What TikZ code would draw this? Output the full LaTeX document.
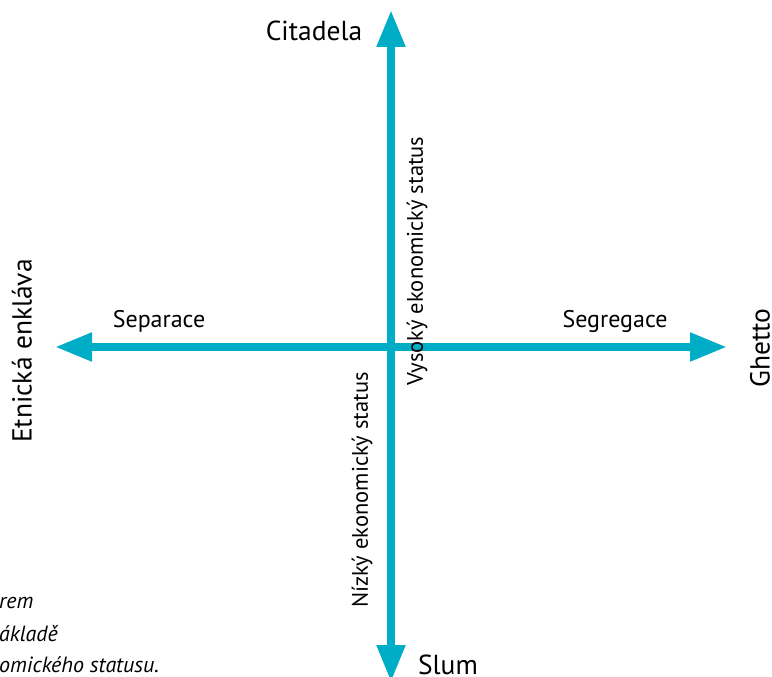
\documentclass[tikz,border=0pt]{standalone}
\usepackage{fontspec}
\setmainfont{PT Sans}
\usetikzlibrary{arrows.meta}
\definecolor{axis}{RGB}{0,173,198}
\tikzset{
  axisarrow/.style={draw=axis, line width=8pt,
    {Triangle[width=27pt,length=37pt]}-{Triangle[width=27pt,length=37pt]}},
  lbl/.style={inner sep=0pt, font=\fontsize{24}{28}\selectfont},
  vlbl/.style={inner sep=0pt, rotate=90, font=\fontsize{22.5}{26}\selectfont},
  biglbl/.style={inner sep=0pt, font=\fontsize{27.5}{32}\selectfont},
  note/.style={inner sep=0pt, anchor=west, font=\fontsize{22}{26}\selectfont\itshape}
}
\begin{document}
\begin{tikzpicture}[x=1pt,y=-1pt]
\useasboundingbox (0,0) rectangle (772,677);
\begin{scope}
\clip (0,0) rectangle (772,677);
\coordinate (top) at (391,10);
\coordinate (bottom) at (391,682);
\coordinate (left) at (55,347);
\coordinate (right) at (727,347);
\draw[axisarrow] (left) -- (right);
\draw[axisarrow] (bottom) -- (top);
\node[biglbl] (cit) at (314,31) {Citadela};
\node[biglbl] (slum) at (448,665) {Slum};
\node[biglbl, rotate=90] (enk) at (22,351) {Etnická enkláva};
\node[biglbl, rotate=90] (ghe) at (760,348) {Ghetto};
\node[lbl] (sep) at (159,321) {Separace};
\node[lbl] (seg) at (615,321) {Segregace};
\node[vlbl] (vys) at (417,261) {Vysoký ekonomický status};
\node[vlbl] (niz) at (362,490) {Nízký ekonomický status};
\node[note] (n1) at (-1,603) {rem};
\node[note] (n2) at (-1,634) {ákladě};
\node[note] (n3) at (-1,665) {omického statusu.};
\end{scope}
\end{tikzpicture}
\end{document}
